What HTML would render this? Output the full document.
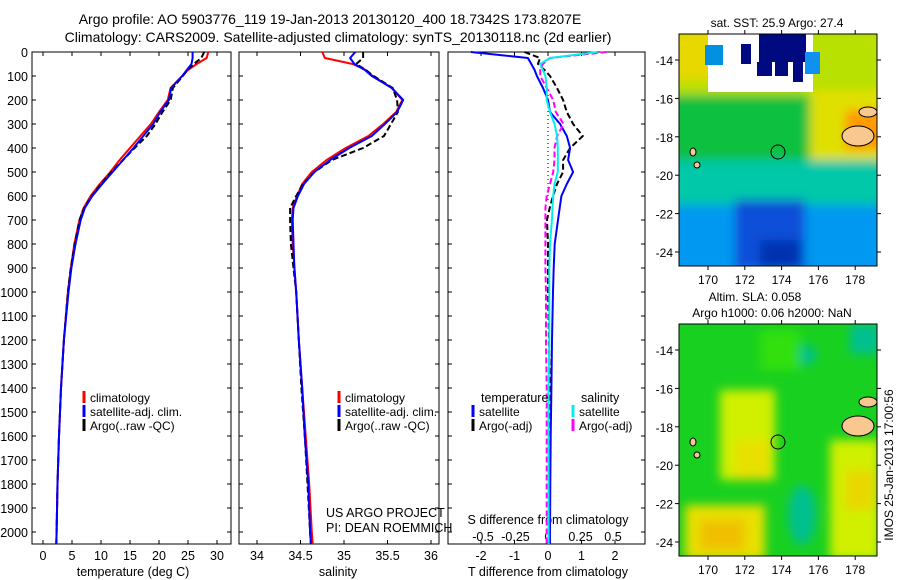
<!DOCTYPE html>
<html><head><meta charset="utf-8"><style>
html,body{margin:0;padding:0;background:#fff;width:900px;height:580px;overflow:hidden}
svg text{font-family:"Liberation Sans",sans-serif;fill:#000}
</style></head><body>
<svg id="fig" width="900" height="580" xmlns="http://www.w3.org/2000/svg">
<defs>
<filter id="bl" x="-20%" y="-20%" width="140%" height="140%"><feGaussianBlur stdDeviation="5"/></filter>
<clipPath id="c1"><rect x="679" y="34" width="198" height="232"/></clipPath>
<clipPath id="c2"><rect x="679" y="324" width="198" height="232"/></clipPath>
</defs>
<text x="330" y="24" font-size="14" text-anchor="middle">Argo profile: AO 5903776_119 19-Jan-2013 20130120_400 18.7342S 173.8207E</text>
<text x="338" y="42" font-size="14" text-anchor="middle">Climatology: CARS2009. Satellite-adjusted climatology: synTS_20130118.nc (2d earlier)</text>
<g id="plots"></g>
<g clip-path="url(#c1)">
<rect x="679" y="34" width="198" height="232" fill="#00b8e8"/>
<g filter="url(#bl)">
<rect x="670" y="25" width="220" height="80" fill="#b8e000"/>
<rect x="670" y="95" width="220" height="70" fill="#10c040"/>
<rect x="810" y="90" width="80" height="80" fill="#e0e000"/>
<rect x="670" y="30" width="50" height="50" fill="#e8d800"/>
<rect x="845" y="110" width="40" height="40" fill="#ff9a00"/>
<rect x="670" y="160" width="220" height="45" fill="#00c8a8"/>
<rect x="670" y="205" width="220" height="70" fill="#0098f0"/>
<rect x="735" y="200" width="70" height="70" fill="#1050d8"/>
<rect x="760" y="240" width="40" height="30" fill="#0030b0"/>
</g>
<rect x="708" y="34" width="105" height="58" fill="#fff"/>
<rect x="759" y="34" width="47" height="28" fill="#000a80"/>
<rect x="757" y="62" width="15" height="14" fill="#000a80"/>
<rect x="775" y="62" width="13" height="14" fill="#000a80"/>
<rect x="793" y="62" width="10" height="20" fill="#000a80"/>
<rect x="741" y="44" width="10" height="20" fill="#000a80"/>
<rect x="705" y="45" width="18" height="20" fill="#0090e0"/>
<rect x="805" y="52" width="15" height="22" fill="#1090f0"/>
<ellipse cx="858" cy="136" rx="16" ry="10" fill="#f8c890" stroke="#000"/>
<ellipse cx="868" cy="112" rx="9" ry="5" fill="#f8c890" stroke="#000"/>
<ellipse cx="693" cy="152" rx="3" ry="4" fill="#f8c890" stroke="#000"/>
<ellipse cx="697" cy="165" rx="3" ry="3" fill="#f8c890" stroke="#000"/>
<circle cx="778" cy="152" r="7" fill="none" stroke="#000"/>
</g>
<rect x="679" y="34" width="198" height="232" fill="none" stroke="#000"/>
<g clip-path="url(#c2)">
<rect x="679" y="324" width="198" height="232" fill="#18d020"/>
<g filter="url(#bl)">
<rect x="720" y="390" width="55" height="90" fill="#d0f000"/>
<rect x="735" y="440" width="35" height="40" fill="#e8e000"/>
<rect x="685" y="505" width="80" height="55" fill="#e8e000"/>
<rect x="700" y="520" width="45" height="30" fill="#f0c000"/>
<rect x="830" y="440" width="50" height="120" fill="#d0f000"/>
<rect x="845" y="470" width="30" height="40" fill="#e8d800"/>
<ellipse cx="802" cy="355" rx="15" ry="10" fill="#00c090"/>
<ellipse cx="802" cy="515" rx="14" ry="30" fill="#00c090"/>
<rect x="850" y="324" width="30" height="30" fill="#00c090"/>
<rect x="760" y="330" width="40" height="40" fill="#30e010"/>
</g>
<ellipse cx="858" cy="426" rx="16" ry="10" fill="#f8c890" stroke="#000"/>
<ellipse cx="868" cy="402" rx="9" ry="5" fill="#f8c890" stroke="#000"/>
<ellipse cx="693" cy="442" rx="3" ry="4" fill="#f8c890" stroke="#000"/>
<ellipse cx="697" cy="455" rx="3" ry="3" fill="#f8c890" stroke="#000"/>
<circle cx="778" cy="442" r="7" fill="none" stroke="#000"/>
</g>
<rect x="679" y="324" width="198" height="232" fill="none" stroke="#000"/>
<text x="777" y="27" font-size="12" text-anchor="middle">sat. SST: 25.9 Argo: 27.4</text>
<text x="755" y="301" font-size="12" text-anchor="middle">Altim. SLA: 0.058</text>
<text x="772" y="317" font-size="12" text-anchor="middle">Argo h1000: 0.06 h2000: NaN</text>
<text transform="translate(893,465) rotate(-90)" font-size="12" text-anchor="middle">IMOS 25-Jan-2013 17:00:56</text>
<g id="mapaxes"></g>
</svg>
<script>
var NS="http://www.w3.org/2000/svg";
var depths=[0,25,50,75,100,150,200,250,300,350,400,450,500,550,600,650,700,800,900,1000,1200,1400,1600,1800,2000,2050];
var tempClim=[28.5,28.2,26.5,25.0,24.0,22.0,21.5,20.0,18.6,16.8,15.0,13.2,11.6,9.8,8.2,7.0,6.3,5.4,4.8,4.3,3.6,3.1,2.75,2.5,2.35,2.3];
var tempSat=[25.8,25.8,25.6,24.8,24.0,22.1,21.7,20.2,19.0,17.3,15.6,13.8,12.0,10.2,8.5,7.2,6.5,5.6,4.9,4.4,3.6,3.1,2.75,2.5,2.35,2.3];
var tempArgo=[27.8,27.3,26.0,24.9,24.1,22.4,22.0,20.6,19.4,17.9,15.8,13.8,11.8,10.0,8.4,7.1,6.3,5.5,4.8,4.3,3.6,3.1,2.75,2.5,2.35,2.3];
var salClim=[34.75,34.78,35.1,35.25,35.33,35.55,35.67,35.6,35.45,35.28,35.02,34.8,34.63,34.52,34.46,34.41,34.40,34.41,34.43,34.45,34.48,34.52,34.56,34.6,34.63,34.64];
var salSat=[35.13,35.07,35.12,35.24,35.32,35.55,35.68,35.61,35.47,35.32,35.06,34.84,34.66,34.54,34.47,34.42,34.41,34.42,34.43,34.45,34.48,34.52,34.55,34.59,34.61,34.62];
var salArgo=[35.22,35.22,35.14,35.25,35.34,35.56,35.61,35.62,35.54,35.46,35.22,34.86,34.66,34.53,34.45,34.38,34.38,34.39,34.42,34.45,34.48,34.51,34.55,34.58,34.61,34.62];
var dTsat=[-2.3,-0.6,-0.5,-0.4,-0.33,-0.15,0.0,0.06,0.36,0.56,0.66,0.6,0.75,0.56,0.4,0.35,0.3,0.2,0.17,0.15,0.12,0.1,0.08,0.07,0.06,0.06];
var dTargo=[-0.7,-0.24,-0.3,-0.1,0.06,0.27,0.45,0.56,0.75,1.04,0.66,0.45,0.45,0.27,0.15,0.05,-0.03,0.0,0.0,0.0,0.03,0.05,0.05,0.06,0.06,0.06];
var dSsat=[0.38,0.015,-0.06,-0.04,-0.02,-0.01,-0.01,0.015,0.05,0.07,0.075,0.075,0.075,0.05,0.04,0.035,0.03,0.015,0.01,0.01,0.01,0.005,0.005,0.005,0.005,0.005];
var dSargo=[0.45,0.015,-0.04,-0.06,-0.06,-0.01,0.04,0.06,0.12,0.07,0.05,0.05,0.04,0.015,-0.01,-0.02,-0.02,-0.02,-0.02,-0.015,-0.015,-0.01,-0.01,-0.01,-0.01,-0.01];
var depthTicks=[0,100,200,300,400,500,600,700,800,900,1000,1100,1200,1300,1400,1500,1600,1700,1800,1900,2000];
var tempTicks=[0,5,10,15,20,25,30];
var salTicks=[34,34.5,35,35.5,36];
var dTTicks=[-2,-1,0,1,2];
var dSTicks=[-0.5,-0.25,0,0.25,0.5];
var lonTicks=[170,172,174,176,178];
var latTicks=[-14,-16,-18,-20,-22,-24];

function yD(d){return 52+d*0.24;}
function xT(t){return 43+t*5.8;}
function xS(s){return 257+(s-34)*87;}
function xdT(t){return 548+t*33.5;}
function xdS(s){return 548+s*130;}
function lonX(l){return 708+(l-170)*18.4;}
function latY(l,off){return 60+(-14-l)*19.2+off;}

var P=document.getElementById('plots');
function el(tag,attrs,parent,txt){var e=document.createElementNS(NS,tag);for(var k in attrs)e.setAttribute(k,attrs[k]);if(txt!==undefined)e.textContent=txt;(parent||P).appendChild(e);return e;}

var frames=[[32,231],[239,439],[448,645]];
frames.forEach(function(f,i){
 var r=el('rect',{x:f[0],y:52,width:f[1]-f[0],height:492,fill:'none',stroke:'#000'});
 
 
 depthTicks.forEach(function(d){
  el('line',{x1:f[0],x2:f[0]+4,y1:yD(d),y2:yD(d),stroke:'#000'});
  el('line',{x1:f[1],x2:f[1]-4,y1:yD(d),y2:yD(d),stroke:'#000'});
 });
});
depthTicks.forEach(function(d){
 var t=el('text',{x:28,y:yD(d)+5,'font-size':12.5,'text-anchor':'end'},P,String(d));
 
 
});
function xticks(arr,fx,y,lbl,top){
 arr.forEach(function(v){
  var x=fx(v);
  el('line',{x1:x,x2:x,y1:544,y2:540,stroke:'#000'});
  if(top)el('line',{x1:x,x2:x,y1:52,y2:56,stroke:'#000'});
  var t=el('text',{x:x,y:y,'font-size':12.5,'text-anchor':'middle'},P,String(v));
  
  
 });
}
xticks(tempTicks,xT,560,'temperature-tick-label',true);
xticks(salTicks,xS,560,'salinity-tick-label',true);
xticks(dTTicks,xdT,560,'t-diff-tick-label',true);
dSTicks.forEach(function(v){
 var t=el('text',{x:xdS(v),y:541,'font-size':12.5,'text-anchor':'middle'},P,String(v));
 
 
});
function lab(x,y,s,name,anchor){var t=el('text',{x:x,y:y,'font-size':12.5,'text-anchor':anchor||'middle'},P,s);}
lab(133,576,'temperature (deg C)','x-axis-title-temperature');
lab(338,576,'salinity','x-axis-title-salinity');
lab(548,576,'T difference from climatology','x-axis-title-t-diff');
lab(548,524,'S difference from climatology','x-axis-title-s-diff');
lab(326,517,'US ARGO PROJECT','credit-project','start');
lab(326,532,'PI: DEAN ROEMMICH','credit-pi','start');

el('line',{x1:548,x2:548,y1:95,y2:200,stroke:'#000','stroke-dasharray':'1,3'});

function series(vals,fx,color,w,dash,name){
 var pts=vals.map(function(v,i){return fx(v).toFixed(1)+','+yD(depths[i]).toFixed(1);}).join(' ');
 var a={points:pts,fill:'none',stroke:color,'stroke-width':w,'stroke-linejoin':'round'};
 if(dash)a['stroke-dasharray']=dash;
 var p=el('polyline',a);
 
 
}
series(tempClim,xT,'#f00',2,null,'temp-climatology-line');
series(tempArgo,xT,'#000',2,'6,3','temp-argo-line');
series(tempSat,xT,'#00f',2,null,'temp-satellite-line');
series(salClim,xS,'#f00',2,null,'sal-climatology-line');
series(salArgo,xS,'#000',2,'6,3','sal-argo-line');
series(salSat,xS,'#00f',2,null,'sal-satellite-line');
series(dTargo,xdT,'#000',2,'6,3','tdiff-argo-line');
series(dTsat,xdT,'#00f',2,null,'tdiff-satellite-line');
series(dSargo,xdS,'#f0f',2,'6,3','sdiff-argo-line');
series(dSsat,xdS,'#0ee',2,null,'sdiff-satellite-line');

function leg(x,y,color,txt,name){
 var l=el('line',{x1:x,x2:x,y1:y-11,y2:y+1,stroke:color,'stroke-width':3});
 
 
 var t=el('text',{x:x+6,y:y,'font-size':12},P,txt);
 
 
}
leg(84,402,'#f00','climatology','legend-temp-climatology');
leg(84,416,'#00f','satellite-adj. clim.','legend-temp-satellite');
leg(84,430,'#000','Argo(..raw -QC)','legend-temp-argo');
leg(339,402,'#f00','climatology','legend-sal-climatology');
leg(339,416,'#00f','satellite-adj. clim.','legend-sal-satellite');
leg(339,430,'#000','Argo(..raw -QC)','legend-sal-argo');
lab(481,402,'temperature','legend-temperature-heading','start');
lab(581,402,'salinity','legend-salinity-heading','start');
leg(473,416,'#00f','satellite','legend-tdiff-satellite');
leg(473,430,'#000','Argo(-adj)','legend-tdiff-argo');
leg(573,416,'#0ee','satellite','legend-sdiff-satellite');
leg(573,430,'#f0f','Argo(-adj)','legend-sdiff-argo');

var M=document.getElementById('mapaxes');
[0,290].forEach(function(off,mi){
 lonTicks.forEach(function(l){
  var x=lonX(l);
  el('line',{x1:x,x2:x,y1:34+off,y2:30+off,stroke:'#000'},M);
  el('line',{x1:x,x2:x,y1:266+off,y2:270+off,stroke:'#000'},M);
  var t=el('text',{x:x,y:284+off,'font-size':12,'text-anchor':'middle'},M,String(l));
  
  
 });
 latTicks.forEach(function(l){
  var y=latY(l,off);
  el('line',{x1:679,x2:675,y1:y,y2:y,stroke:'#000'},M);
  el('line',{x1:877,x2:881,y1:y,y2:y,stroke:'#000'},M);
  var t=el('text',{x:673,y:y+5,'font-size':12,'text-anchor':'end'},M,String(l));
  
  
 });
});
</script>
</body></html>
